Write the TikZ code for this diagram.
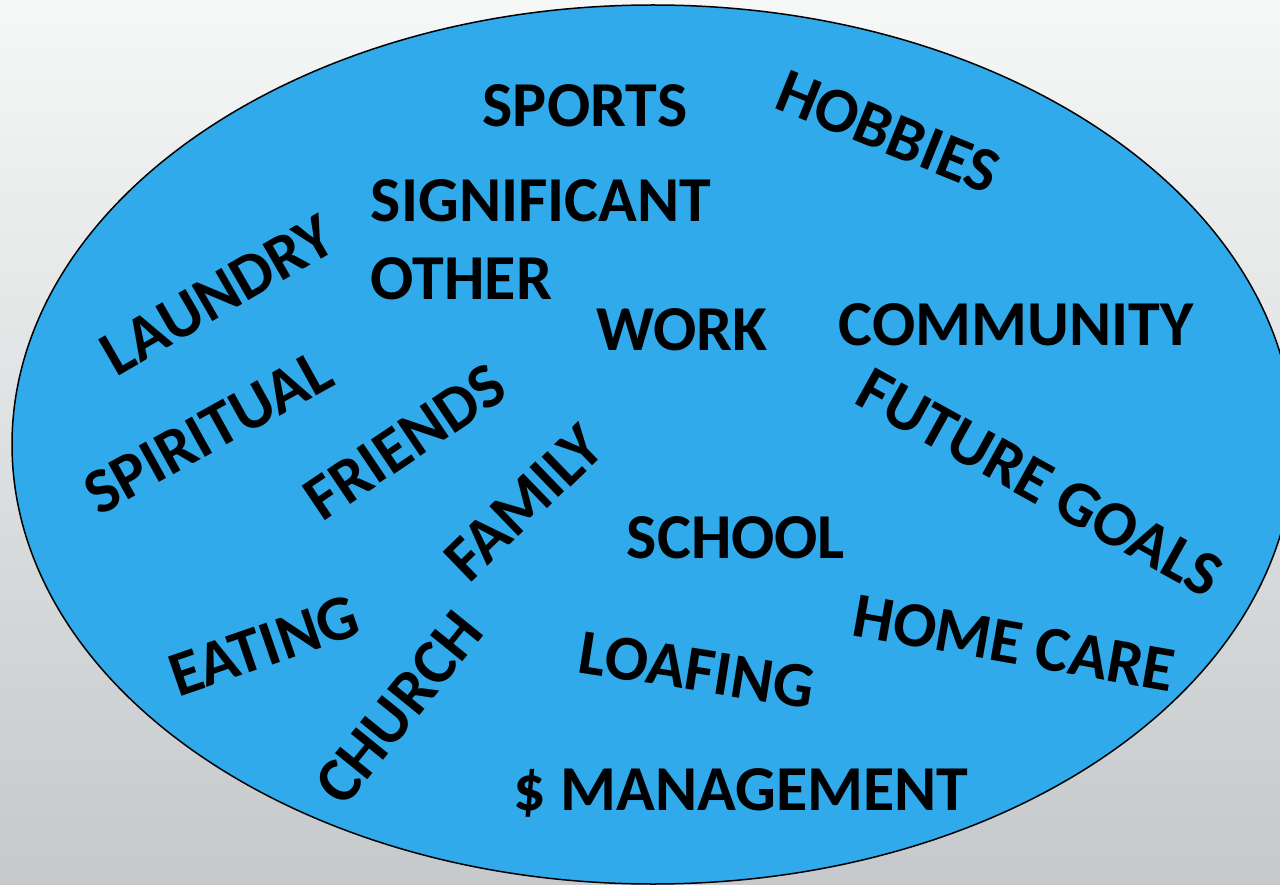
\documentclass[tikz,border=0pt]{standalone}
\usepackage{fontspec}
\setmainfont{Carlito}
\definecolor{lifeblue}{RGB}{48,170,234}
\definecolor{bgtop}{RGB}{246,247,247}
\definecolor{bgbottom}{RGB}{197,201,203}
\newcommand\wordfont{\fontsize{64}{78}\selectfont\bfseries}
\begin{document}
\begin{tikzpicture}[x=1pt,y=-1pt,
  word/.style={font=\wordfont, inner sep=0pt, text=black},
  bubble/.style={draw=black, line width=1.5pt, fill=lifeblue}]
  \useasboundingbox (0,0) rectangle (1280,885);
  \shade[top color=bgtop, bottom color=bgbottom] (0,0) rectangle (1280,885);
  \begin{scope}
    \clip (0,0) rectangle (1280,885);
    \draw[bubble] (653,444.5) ellipse [x radius=641, y radius=439.5];
  \end{scope}
  % words in the bubble
  \node[word] (sports) at (585,106) {SPORTS};
  \node[word, rotate=-22] (hobbies) at (888,132) {HOBBIES};
  \node[word, align=left] (other) at (541,240) {SIGNIFICANT\\OTHER};
  \node[word, rotate=30] (laundry) at (218,295) {LAUNDRY};
  \node[word] (work) at (682,330) {WORK};
  \node[word] (community) at (1016,325) {COMMUNITY};
  \node[word, rotate=29] (spiritual) at (208,432) {SPIRITUAL};
  \node[word, rotate=34] (friends) at (405,442) {FRIENDS};
  \node[word, rotate=-29] (goals) at (1040,483) {FUTURE GOALS};
  \node[word, rotate=44] (family) at (524,503) {FAMILY};
  \node[word] (school) at (736,538) {SCHOOL};
  \node[word, rotate=-10] (homecare) at (1014,643) {HOME CARE};
  \node[word, rotate=19] (eating) at (264,646) {EATING};
  \node[word, rotate=51] (church) at (399,708) {CHURCH};
  \node[word, rotate=-9] (loafing) at (697,670) {LOAFING};
  \node[word] (money) at (741,793) {\$ MANAGEMENT};
\end{tikzpicture}
\end{document}
